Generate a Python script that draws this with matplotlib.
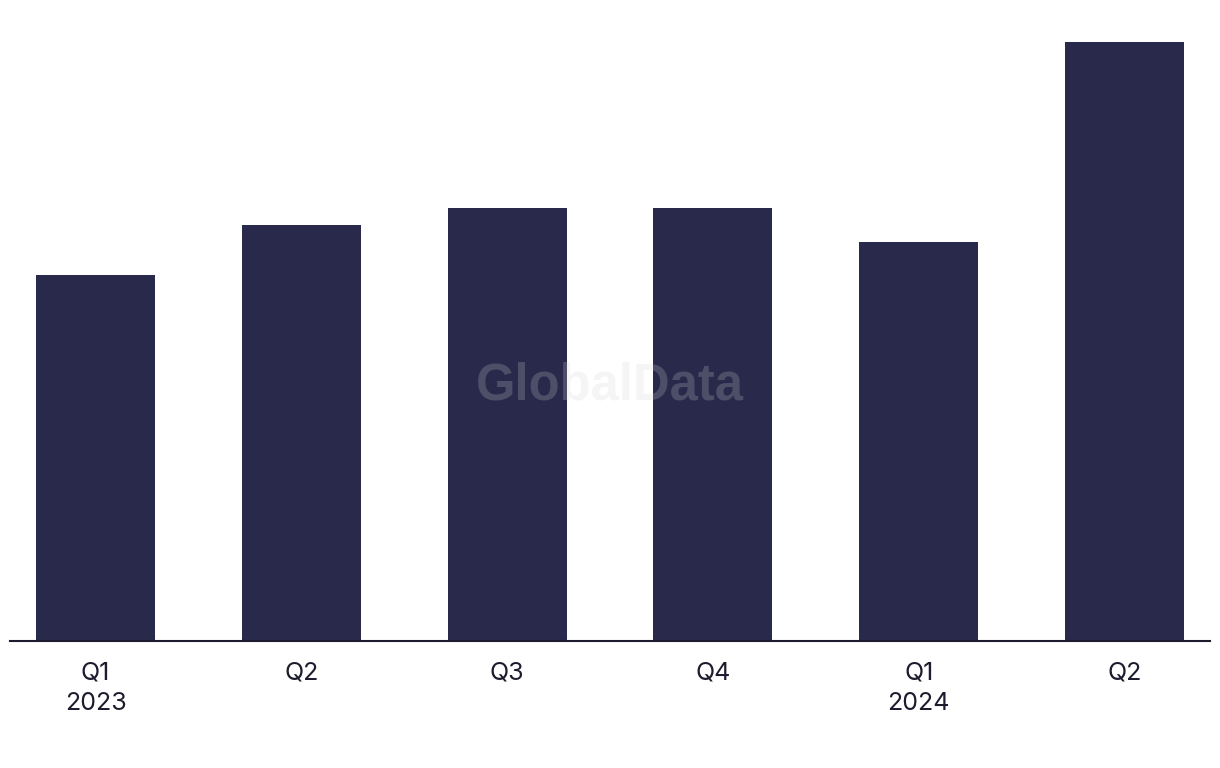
import numpy as np
import matplotlib.pyplot as plt

# Data (no y axis shown, relative heights)
quarters = ['Q1\n2023', 'Q2', 'Q3', 'Q4', 'Q1\n2024', 'Q2']
values = [22, 25, 26, 26, 24, 36]

bar_color = '#29294b'
text_color = '#1c1c2e'

plt.rcParams['font.family'] = ['Inter', 'DejaVu Sans']

fig = plt.figure(figsize=(12.2, 7.68), dpi=100)
ax = fig.add_axes([10 / 1220, (768 - 641) / 768, 1200 / 1220, (641 - 30) / 768])

x = np.arange(len(values))
ax.bar(x, values, width=0.578, color=bar_color, zorder=2)

ax.set_xlim(-0.4155, 5.4155)
ax.set_ylim(0, 36 * (641 - 30) / 599)

ax.set_xticks(x)
ax.set_xticklabels(quarters, fontsize=18, color=text_color, linespacing=1.42)
ax.tick_params(axis='x', length=0, pad=15)
ax.set_yticks([])

for side in ['left', 'right', 'top']:
    ax.spines[side].set_visible(False)
ax.spines['bottom'].set_color(text_color)
ax.spines['bottom'].set_linewidth(1.5)
ax.spines['bottom'].set_zorder(3)

# watermark
fig.text(610 / 1220, 1 - 386 / 768, 'GlobalData', fontsize=36.5, fontweight='bold',
         family=['Liberation Sans', 'DejaVu Sans'],
         color='#d2d2d2', alpha=0.22, ha='center', va='center', zorder=5)

plt.savefig('out.png', dpi=100)
plt.close()
